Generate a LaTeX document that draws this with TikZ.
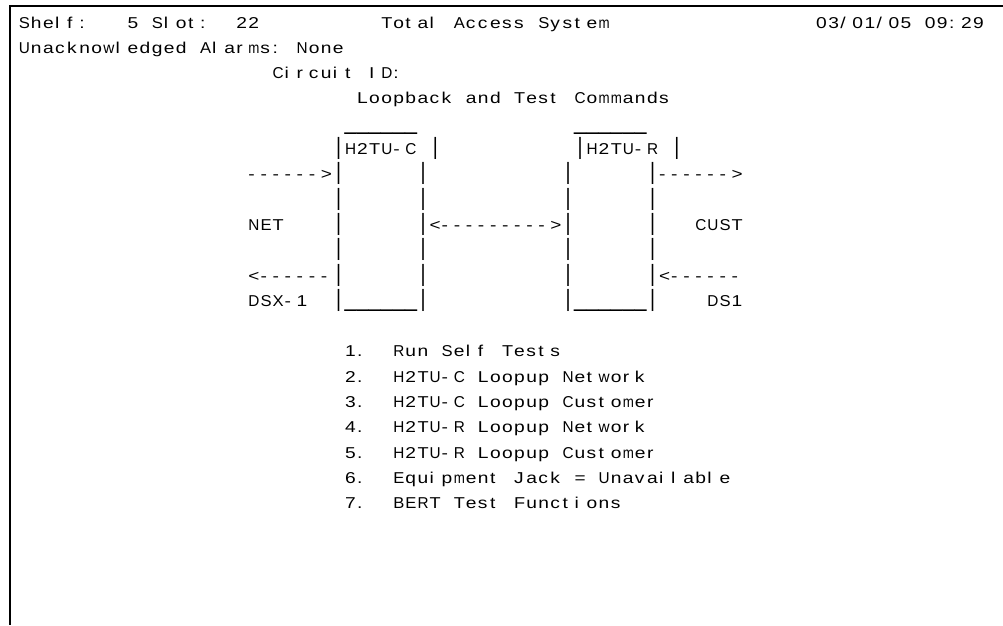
\documentclass[tikz,border=0pt]{standalone}
\usepackage{fontspec}
\setmainfont{Liberation Sans}
\newfontfamily\termfont[FakeStretch=1.22]{Liberation Sans}
\usepackage{graphicx}
\newlength\chw
\setlength\chw{9.06pt}
\newlength\mtmax
\setlength\mtmax{8.3pt}
\newsavebox\mtbox
\def\mtstop{\mtstop}
\def\mt#1{\mtloop#1\mtstop}
\def\mtloop#1{\ifx#1\mtstop\else\mtcell#1\expandafter\mtloop\fi}
\def\mtcell#1{%
  \ifx#1~\hbox to\chw{\hfil}%
  \else\ifx#1|\hbox to\chw{\hss\scalebox{1}[1.5]{|}\hss}%
  \else\ifx#1\_\hbox to\chw{\hss\scalebox{1.12}[1.6]{\_}\hss}%
  \else\sbox\mtbox{#1}%
    \ifdim\wd\mtbox>\mtmax
      \hbox to\chw{\kern0.3pt\resizebox{\mtmax}{\height}{#1}\hss}%
    \else
      \hbox to\chw{\kern0.3pt\usebox\mtbox\hss}%
    \fi
  \fi\fi\fi}
\begin{document}
\begin{tikzpicture}[x=0.75pt,y=-0.75pt,
  txt/.style={anchor=base west,inner sep=0pt,outer sep=0pt,text=black,
    font=\termfont\fontsize{11.8pt}{13pt}\selectfont},
  frame/.style={line width=1.5pt,line join=miter}]
\useasboundingbox (0,0) rectangle (1003,625);
\coordinate (tr) at (1003,5.5);
\coordinate (tl) at (10,5.5);
\coordinate (bl) at (10,625);
\draw[frame] (tr) -- (tl) -- (bl);
\begin{scope}[shift={(18.5,28)},x=9.06pt,y=-18.975pt]
\node[txt] (shelf) at (0,0) {\mt{Shelf:~~~5~Slot:~~22}};
\node[txt] (title) at (30,0) {\mt{Total~Access~System}};
\node[txt] (date) at (66,0) {\mt{03/01/05~09:29}};
\node[txt] (alarms) at (0,1) {\mt{Unacknowledged~Alarms:~None}};
\node[txt] (circuit) at (21,2) {\mt{Circuit~ID:}};
\node[txt] (heading) at (28,3) {\mt{Loopback~and~Test~Commands}};
\node[txt] (tops) at (27,4) {\mt{\_\_\_\_\_\_~~~~~~~~~~~~~\_\_\_\_\_\_}};
\node[txt] (labels) at (26,5) {\mt{|H2TU-C~|~~~~~~~~~~~|H2TU-R~|}};
\node[txt] (row6) at (19,6) {\mt{------>|~~~~~~|~~~~~~~~~~~|~~~~~~|------>}};
\node[txt] (row7) at (26,7) {\mt{|~~~~~~|~~~~~~~~~~~|~~~~~~|}};
\node[txt] (row8) at (19,8) {\mt{NET~~~~|~~~~~~|<--------->|~~~~~~|~~~CUST}};
\node[txt] (row9) at (26,9) {\mt{|~~~~~~|~~~~~~~~~~~|~~~~~~|}};
\node[txt] (row10) at (19,10) {\mt{<------|~~~~~~|~~~~~~~~~~~|~~~~~~|<------}};
\node[txt] (row11) at (19,11) {\mt{DSX-1~~|\_\_\_\_\_\_|~~~~~~~~~~~|\_\_\_\_\_\_|~~~~DS1}};
\node[txt] (m1) at (27,13) {\mt{1.~~Run~Self~Tests}};
\node[txt] (m2) at (27,14) {\mt{2.~~H2TU-C~Loopup~Network}};
\node[txt] (m3) at (27,15) {\mt{3.~~H2TU-C~Loopup~Customer}};
\node[txt] (m4) at (27,16) {\mt{4.~~H2TU-R~Loopup~Network}};
\node[txt] (m5) at (27,17) {\mt{5.~~H2TU-R~Loopup~Customer}};
\node[txt] (m6) at (27,18) {\mt{6.~~Equipment~Jack~=~Unavailable}};
\node[txt] (m7) at (27,19) {\mt{7.~~BERT~Test~Functions}};
\end{scope}
\end{tikzpicture}
\end{document}
